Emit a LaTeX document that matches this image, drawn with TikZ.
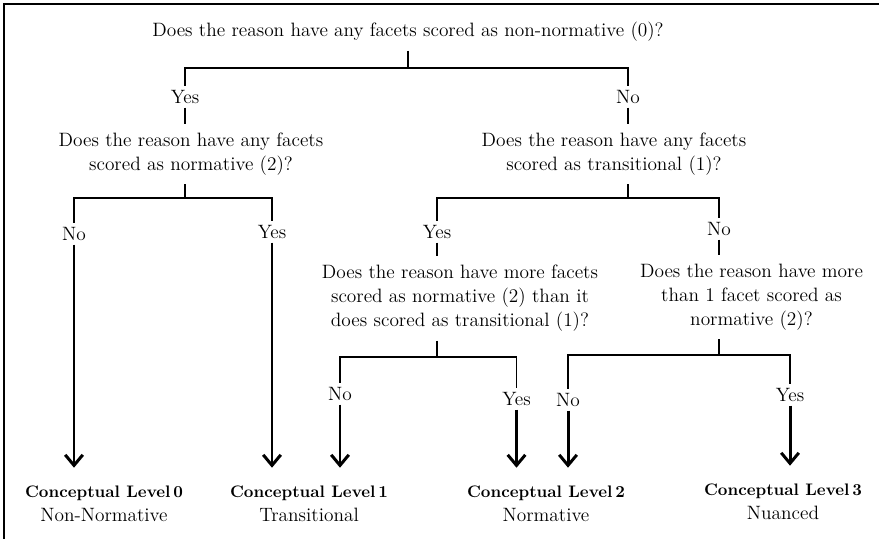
\documentclass[tikz,border=0pt]{standalone}
\usepackage{tikz}
\usetikzlibrary{arrows.meta, positioning, calc}

\begin{document}
\begin{tikzpicture}[
    font=\fontsize{11}{13.6}\selectfont,
    question/.style={align=center, inner sep=2pt},
    answer/.style={inner sep=2pt},
    leaf/.style={align=center, inner sep=2pt},
    link/.style={line width=0.7pt},
    arrow/.style={-{Straight Barb[length=6pt, width=10pt]}, line width=1.7pt}
]
    \useasboundingbox (0,0) rectangle (17.58,-10.78);
    \draw[line width=1pt] (0.08,-10.78) -- (0.08,-0.08) -- (17.58,-0.08);

    \node[question] (q1) at (8.16,-0.64) {Does the reason have any facets scored as non-normative (0)?};
    \node[answer] (yes1) at (3.70,-1.94) {Yes};
    \node[answer] (no1) at (12.56,-1.94) {No};

    \node[question] (q2) at (3.82,-3.08) {Does the reason have any facets\\scored as normative (2)?};
    \node[question] (q3) at (12.28,-3.08) {Does the reason have any facets\\scored as transitional (1)?};

    \node[answer] (q2no) at (1.48,-4.68) {No};
    \node[answer] (q2yes) at (5.44,-4.64) {Yes};
    \node[answer] (q3yes) at (8.74,-4.64) {Yes};
    \node[answer] (q3no) at (14.38,-4.58) {No};

    \node[question] (q4) at (9.20,-5.97) {Does the reason have more facets\\scored as normative (2) than it\\does scored as transitional (1)?};
    \node[question] (q5) at (15.03,-5.94) {Does the reason have more\\than 1 facet scored as\\normative (2)?};

    \node[answer] (q4no) at (6.80,-7.88) {No};
    \node[answer] (q4yes) at (10.33,-7.98) {Yes};
    \node[answer] (q5no) at (11.36,-8.00) {No};
    \node[answer] (q5yes) at (15.80,-7.90) {Yes};

    \node[leaf] (l0) at (2.08,-10.07) {{\fontsize{9.5}{11}\selectfont\bfseries Conceptual Level\,0}\\Non-Normative};
    \node[leaf] (l1) at (6.18,-10.07) {{\fontsize{9.5}{11}\selectfont\bfseries Conceptual Level\,1}\\Transitional};
    \node[leaf] (l2) at (10.92,-10.07) {{\fontsize{9.5}{11}\selectfont\bfseries Conceptual Level\,2}\\Normative};
    \node[leaf] (l3) at (15.66,-10.03) {{\fontsize{9.5}{11}\selectfont\bfseries Conceptual Level\,3}\\Nuanced};

    % forks
    \draw[link, shorten <=3pt] (q1) -- (q1 |- 0,-1.36) -| (yes1);
    \draw[link, shorten <=3pt] (q1) -- (q1 |- 0,-1.36) -| (no1);
    \draw[link, shorten >=3pt] (yes1) -- (yes1 |- q2.north);
    \draw[link, shorten >=3pt] (no1) -- (no1 |- q3.north);

    \draw[link, shorten <=3pt] (yes1 |- q2.south) -- (yes1 |- 0,-3.96) -| (q2no);
    \draw[link, shorten <=3pt] (yes1 |- q2.south) -- (yes1 |- 0,-3.96) -| (q2yes);
    \draw[link, shorten <=3pt] (no1 |- q3.south) -- (no1 |- 0,-3.96) -| (q3yes);
    \draw[link, shorten <=3pt] (no1 |- q3.south) -- (no1 |- 0,-3.96) -| (q3no);
    \draw[link, shorten >=3pt] (q3yes) -- (q3yes |- q4.north);
    \draw[link, shorten >=3pt] (q3no) -- (q3no |- q5.north);

    \draw[link, shorten <=3pt] (q3yes |- q4.south) -- (q3yes |- 0,-7.14) -| (q4no);
    \draw[link, shorten <=3pt] (q3yes |- q4.south) -- (q3yes |- 0,-7.14) -| (q4yes);
    \draw[link, shorten <=3pt] (q3no |- q5.south) -- (q3no |- 0,-7.10) -| (q5no);
    \draw[link, shorten <=3pt] (q3no |- q5.south) -- (q3no |- 0,-7.10) -| (q5yes);

    % outcomes
    \draw[arrow, shorten >=8pt] (q2no) -- (q2no |- l0.north);
    \draw[arrow, shorten >=8pt] (q2yes) -- (q2yes |- l1.north);
    \draw[arrow, shorten >=8pt] (q4no) -- (q4no |- l1.north);
    \draw[arrow, shorten >=8pt] (q4yes) -- (q4yes |- l2.north);
    \draw[arrow, shorten >=8pt] (q5no) -- (q5no |- l2.north);
    \draw[arrow, shorten >=8pt] (q5yes) -- (q5yes |- l3.north);
\end{tikzpicture}
\end{document}
